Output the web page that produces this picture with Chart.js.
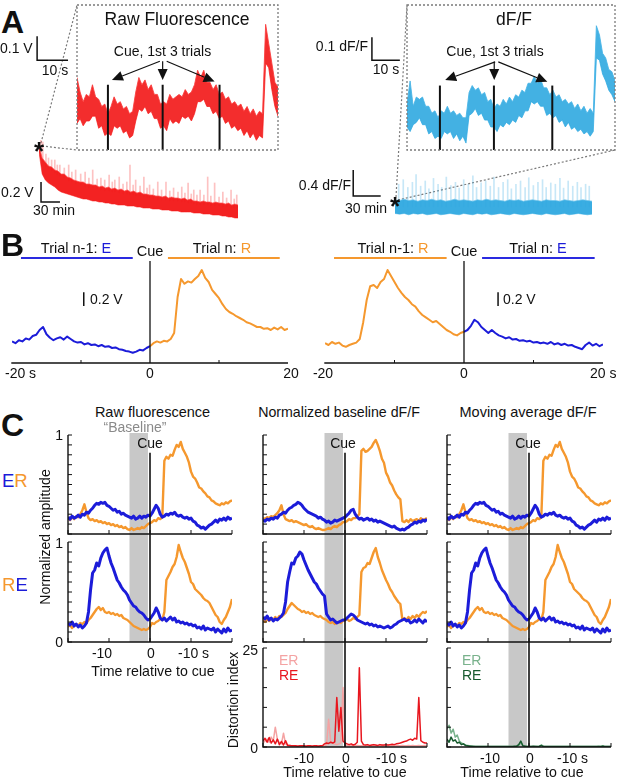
<!DOCTYPE html>
<html>
<head>
<meta charset="utf-8">
<script src="https://cdn.jsdelivr.net/npm/chart.js@4.4.0/dist/chart.umd.min.js"></script>
<style>
  body { margin: 0; background: #fff; width: 617px; height: 779px; overflow: hidden; position: relative;
         font-family: "Liberation Sans", Arial, Helvetica, sans-serif; }
  canvas { position: absolute; }
  .lbl { position: absolute; white-space: nowrap; color: #111; }
  #links { position: absolute; left: 0; top: 0; }
</style>
</head>
<body>
<svg id="links" width="617" height="779">
  <g stroke="#7a7a7a" stroke-width="1.2" stroke-dasharray="2 2" fill="none">
    <line x1="41" y1="143" x2="77" y2="5"/>
    <line x1="42" y1="146" x2="77" y2="150"/>
    <line x1="396" y1="197" x2="407" y2="5"/>
    <line x1="398" y1="200" x2="615" y2="150"/>
  </g>
</svg>
<script>
// ---------- Panel A: raw fluorescence (V) and dF/F, zoomed insets (s) ----------
const rawInsetUpper = [0.3,0.24,0.2,0.23,0.22,0.27,0.22,0.21,0.18,0.19,
  0.15,0.18,0.22,0.19,0.2,0.17,0.18,0.15,0.16,0.24,
  0.3,0.27,0.29,0.25,0.27,0.23,0.23,0.19,0.2,0.19,
  0.23,0.21,0.22,0.23,0.22,0.25,0.23,0.24,0.27,0.33,
  0.3,0.33,0.28,0.28,0.25,0.27,0.23,0.24,0.21,0.22,
  0.19,0.2,0.18,0.19,0.16,0.18,0.15,0.17,0.14,0.16,
  0.15,0.52,0.44,0.36,0.28,0.26];
const rawInsetLower = [0.11,0.13,0.1,0.12,0.12,0.14,0.14,0.09,0.1,0.06,
  0.07,0.06,0.1,0.09,0.1,0.07,0.08,0.05,0.06,0.12,
  0.17,0.16,0.18,0.15,0.16,0.13,0.13,0.09,0.1,0.08,
  0.13,0.11,0.12,0.11,0.14,0.13,0.14,0.12,0.15,0.2,
  0.2,0.21,0.18,0.18,0.15,0.16,0.13,0.14,0.11,0.12,
  0.09,0.1,0.08,0.09,0.06,0.08,0.05,0.07,0.04,0.06,
  0.05,0.36,0.34,0.25,0.18,0.14];
const rawInsetCues = [10, 27.7, 46.1];

const dffInsetUpper = [0.2,0.3,0.19,0.23,0.22,0.23,0.19,0.19,0.16,0.17,
  0.14,0.17,0.16,0.19,0.16,0.17,0.15,0.16,0.14,0.14,
  0.25,0.28,0.26,0.27,0.24,0.25,0.21,0.22,0.18,0.2,
  0.19,0.22,0.2,0.23,0.21,0.24,0.23,0.26,0.25,0.29,
  0.29,0.32,0.29,0.31,0.27,0.27,0.24,0.26,0.23,0.24,
  0.21,0.22,0.2,0.21,0.18,0.2,0.17,0.19,0.16,0.18,
  0.16,0.54,0.5,0.42,0.4,0.35,0.34,0.3];
const dffInsetLower = [0.1,0.08,0.11,0.12,0.14,0.11,0.11,0.07,0.08,0.05,
  0.06,0.05,0.08,0.07,0.08,0.05,0.07,0.04,0.06,0.03,
  0.15,0.16,0.18,0.15,0.16,0.13,0.13,0.1,0.1,0.08,
  0.11,0.1,0.12,0.11,0.13,0.12,0.15,0.14,0.17,0.17,
  0.21,0.2,0.21,0.19,0.19,0.15,0.16,0.14,0.15,0.12,
  0.13,0.1,0.12,0.09,0.1,0.08,0.09,0.07,0.08,0.06,
  0.08,0.4,0.39,0.33,0.3,0.26,0.24,0.21];
const dffInsetCues = [10.6, 28, 46.8];

// whole session, 5 min samples
const rawTraceTop = [0.74,0.62,0.58,0.54,0.53,0.5,0.49,0.46,0.46,0.43,
  0.42,0.4,0.39,0.38,0.38,0.36,0.36,0.35,0.35,0.33,
  0.34,0.32,0.33,0.31,0.32,0.3,0.31,0.29,0.3,0.28,
  0.29,0.27,0.28,0.26,0.26,0.25,0.25,0.24,0.24,0.23,
  0.24,0.22,0.23,0.22,0.22,0.21,0.22,0.2,0.21,0.19,
  0.19,0.18,0.19,0.18,0.18,0.17,0.18,0.17,0.17,0.16,
  0.17,0.15,0.16,0.15];
const rawTraceBottom = [0.68,0.46,0.4,0.37,0.35,0.33,0.3,0.28,0.27,0.26,
  0.25,0.24,0.23,0.22,0.21,0.21,0.2,0.19,0.19,0.18,
  0.18,0.17,0.17,0.16,0.16,0.15,0.15,0.15,0.14,0.14,
  0.14,0.13,0.13,0.12,0.12,0.12,0.11,0.11,0.11,0.1,
  0.1,0.1,0.09,0.09,0.09,0.08,0.08,0.08,0.08,0.07,
  0.07,0.07,0.06,0.06,0.06,0.05,0.05,0.05,0.04,0.04,
  0.03,0.03,0.02,0.02];
const rawSpikeTimes = [3,6,11,15,20,25,29,33,40,47,52,58,66,73,79,85,92,98,104,111,
  116,120,127,133,139,144,149,153,160,166,171,175,181,188,194,201,207,213,220,226,
  231,236,241,245,250,255,261,267,272,278,285,291,297,304,309,313];
const rawSpikeLows = [0.63,0.58,0.53,0.51,0.49,0.47,0.45,0.44,0.42,0.39,0.38,0.36,0.35,0.33,0.32,0.32,0.31,0.3,0.29,0.29,
  0.28,0.28,0.27,0.26,0.26,0.25,0.25,0.24,0.24,0.23,0.22,0.22,0.21,0.2,0.2,0.2,0.19,0.19,0.19,0.18,
  0.18,0.17,0.17,0.16,0.15,0.15,0.15,0.15,0.14,0.14,0.14,0.13,0.13,0.12,0.12,0.12];
const rawSpikeHighs = [0.8,0.78,0.66,0.62,0.6,0.6,0.55,0.55,0.52,0.55,0.48,0.5,0.46,0.48,0.42,0.5,0.41,0.42,0.4,0.45,
  0.38,0.4,0.43,0.36,0.38,0.55,0.35,0.4,0.34,0.43,0.32,0.35,0.31,0.38,0.3,0.38,0.29,0.32,0.28,0.33,
  0.27,0.37,0.26,0.3,0.25,0.3,0.25,0.43,0.24,0.37,0.23,0.28,0.22,0.3,0.21,0.25];

const dffTraceTop = [0.31,0.3,0.32,0.3,0.31,0.29,0.31,0.3,0.32,0.3,0.31,0.29,0.3,0.32,0.3,0.31,0.3,0.29,0.31,0.3,
  0.32,0.3,0.31,0.3,0.29,0.31,0.3,0.31,0.29,0.3,0.31,0.3,0.29,0.31,0.3,0.3,0.29,0.31,0.3,0.29,
  0.3,0.31,0.3,0.29];
const dffTraceBottom = [0.1,0.09,0.1,0.08,0.1,0.09,0.1,0.08,0.09,0.1,0.08,0.09,0.1,0.09,0.08,0.1,0.09,0.08,0.1,0.09,
  0.1,0.08,0.09,0.1,0.09,0.08,0.1,0.09,0.08,0.09,0.1,0.09,0.08,0.1,0.09,0.08,0.09,0.1,0.08,0.09,
  0.1,0.09,0.08,0.09];
const dffSpikeTimes = [4,9,14,19,23,28,33,37,42,47,51,56,61,66,70,75,80,85,89,94,
  99,104,108,113,118,123,127,132,137,142,146,151,156,161,165,170,175,180,184,189,194,199,203,208,212];
const dffSpikeHighs = [0.55,0.62,0.5,0.58,0.7,0.52,0.6,0.48,0.64,0.55,0.5,0.66,0.53,0.58,0.49,0.62,0.55,0.68,0.5,0.57,
  0.6,0.52,0.66,0.5,0.58,0.62,0.48,0.55,0.6,0.5,0.65,0.53,0.58,0.62,0.5,0.57,0.55,0.64,0.49,0.6,0.52,0.58,0.5,0.55,0.52];
const dffSpikeBase = 0.2;

// ---------- Panel B: single trials, 0.5 s samples ----------
const bLeftBlue = [0.36,0.33,0.38,0.36,0.41,0.39,0.45,0.47,0.55,0.6,
  0.48,0.42,0.38,0.41,0.43,0.39,0.44,0.4,0.36,0.34,
  0.35,0.31,0.33,0.3,0.31,0.28,0.3,0.27,0.28,0.25,
  0.26,0.23,0.22,0.2,0.19,0.17,0.19,0.22,0.21,0.25,0.28];
const bLeftOrange = [0.28,0.33,0.36,0.34,0.37,0.36,0.4,0.5,1.1,1.4,
  1.32,1.36,1.34,1.4,1.45,1.55,1.42,1.35,1.22,1.15,
  1.08,0.98,0.9,0.85,0.82,0.78,0.75,0.72,0.68,0.66,
  0.63,0.6,0.6,0.57,0.58,0.55,0.59,0.56,0.6,0.55,0.57];
const bRightOrange = [0.33,0.3,0.35,0.32,0.34,0.29,0.27,0.3,0.32,0.34,
  0.4,0.68,1.05,1.28,1.3,1.25,1.35,1.4,1.55,1.45,
  1.35,1.25,1.17,1.1,1.05,0.98,0.94,0.86,0.8,0.76,
  0.72,0.68,0.7,0.65,0.6,0.55,0.52,0.48,0.46,0.5,0.52];
const bRightBlue = [0.52,0.55,0.62,0.72,0.68,0.6,0.55,0.5,0.55,0.5,
  0.46,0.44,0.41,0.43,0.39,0.4,0.37,0.38,0.36,0.37,
  0.34,0.35,0.33,0.34,0.32,0.35,0.31,0.33,0.3,0.32,
  0.29,0.3,0.27,0.25,0.23,0.3,0.34,0.29,0.32,0.28,0.31];
const bTrialSpans = [[-18.7, -2.5], [2.6, 18.8]];

// ---------- Panel C: normalized averages, -20..20 s in 0.5 s steps ----------
const rawErBlue = [0.17,0.15,0.18,0.16,0.17,0.19,0.17,0.2,0.19,0.22,
  0.21,0.24,0.26,0.29,0.31,0.3,0.32,0.31,0.32,0.29,
  0.28,0.26,0.24,0.25,0.22,0.23,0.2,0.21,0.19,0.18,
  0.17,0.16,0.18,0.15,0.16,0.18,0.16,0.18,0.17,0.19,
  0.18,0.21,0.25,0.29,0.26,0.2,0.17,0.18,0.2,0.19,
  0.21,0.2,0.22,0.19,0.18,0.19,0.17,0.16,0.17,0.15,
  0.16,0.13,0.12,0.09,0.08,0.06,0.07,0.05,0.07,0.09,
  0.1,0.12,0.14,0.12,0.15,0.14,0.16,0.14,0.17,0.15,0.16];
const rawErOrange = [0.16,0.14,0.17,0.15,0.18,0.17,0.2,0.24,0.3,0.22,
  0.16,0.14,0.15,0.13,0.14,0.12,0.13,0.11,0.12,0.1,
  0.11,0.09,0.1,0.08,0.09,0.07,0.08,0.06,0.07,0.05,
  0.04,0.06,0.04,0.05,0.06,0.05,0.07,0.06,0.08,0.1,
  0.11,0.12,0.14,0.13,0.16,0.15,0.17,0.74,0.78,0.76,
  0.8,0.79,0.85,0.9,0.88,0.93,0.86,0.82,0.78,0.72,
  0.63,0.58,0.56,0.52,0.47,0.46,0.43,0.41,0.38,0.37,
  0.34,0.33,0.31,0.3,0.29,0.31,0.3,0.32,0.31,0.33,0.34];
const rawReBlue = [0.19,0.17,0.2,0.16,0.18,0.15,0.17,0.14,0.16,0.19,
  0.3,0.52,0.69,0.72,0.79,0.76,0.84,0.89,0.92,0.94,
  0.86,0.79,0.74,0.68,0.62,0.59,0.55,0.52,0.5,0.47,
  0.42,0.39,0.36,0.35,0.32,0.3,0.29,0.27,0.24,0.22,
  0.23,0.26,0.29,0.34,0.3,0.24,0.22,0.24,0.21,0.23,
  0.25,0.22,0.24,0.2,0.21,0.19,0.2,0.18,0.19,0.17,
  0.18,0.16,0.17,0.14,0.15,0.13,0.16,0.12,0.14,0.13,
  0.12,0.14,0.1,0.13,0.11,0.09,0.13,0.1,0.14,0.11,0.12];
const rawReOrange = [0.15,0.17,0.14,0.16,0.18,0.16,0.19,0.18,0.2,0.19,
  0.22,0.24,0.27,0.3,0.33,0.35,0.32,0.34,0.3,0.29,
  0.3,0.28,0.29,0.27,0.28,0.26,0.27,0.24,0.23,0.22,
  0.2,0.18,0.16,0.15,0.14,0.13,0.12,0.13,0.12,0.13,
  0.15,0.19,0.18,0.2,0.21,0.23,0.22,0.3,0.62,0.66,
  0.7,0.75,0.78,0.85,0.97,0.9,0.84,0.8,0.74,0.68,
  0.6,0.58,0.53,0.51,0.49,0.47,0.44,0.42,0.41,0.39,
  0.35,0.31,0.27,0.25,0.2,0.18,0.22,0.25,0.3,0.35,0.43];

const normErBlue = [0.14,0.13,0.15,0.14,0.16,0.15,0.17,0.16,0.19,0.2,
  0.22,0.21,0.24,0.26,0.27,0.29,0.3,0.32,0.31,0.29,
  0.26,0.24,0.22,0.21,0.2,0.19,0.18,0.16,0.17,0.15,
  0.14,0.12,0.13,0.11,0.12,0.14,0.13,0.14,0.15,0.16,
  0.17,0.19,0.21,0.24,0.25,0.2,0.17,0.15,0.16,0.14,
  0.15,0.16,0.14,0.15,0.13,0.14,0.12,0.13,0.12,0.11,
  0.1,0.09,0.08,0.07,0.08,0.06,0.05,0.04,0.05,0.04,
  0.06,0.07,0.09,0.1,0.12,0.11,0.13,0.12,0.14,0.13,0.15];
const normErOrange = [0.16,0.15,0.17,0.16,0.18,0.17,0.19,0.21,0.24,0.29,
  0.2,0.15,0.14,0.13,0.14,0.12,0.13,0.12,0.11,0.1,
  0.09,0.1,0.08,0.07,0.08,0.06,0.05,0.06,0.05,0.04,
  0.04,0.05,0.06,0.05,0.07,0.08,0.07,0.09,0.1,0.12,
  0.12,0.13,0.15,0.14,0.16,0.16,0.18,0.2,0.84,0.86,
  0.83,0.84,0.86,0.88,0.92,0.95,0.9,0.84,0.76,0.72,
  0.62,0.58,0.52,0.49,0.44,0.4,0.37,0.35,0.13,0.12,
  0.14,0.12,0.15,0.13,0.14,0.15,0.13,0.16,0.14,0.15,0.16];
const normReBlue = [0.25,0.23,0.26,0.22,0.24,0.21,0.23,0.22,0.24,0.26,
  0.29,0.4,0.6,0.7,0.79,0.78,0.84,0.86,0.9,0.88,
  0.82,0.77,0.72,0.68,0.64,0.6,0.58,0.54,0.51,0.48,
  0.46,0.28,0.25,0.22,0.23,0.21,0.19,0.2,0.21,0.22,
  0.22,0.24,0.26,0.28,0.27,0.25,0.22,0.21,0.2,0.19,
  0.18,0.19,0.17,0.18,0.16,0.17,0.15,0.16,0.15,0.14,
  0.15,0.16,0.14,0.15,0.17,0.18,0.2,0.21,0.22,0.23,
  0.21,0.22,0.19,0.2,0.22,0.2,0.23,0.21,0.19,0.22,0.2];
const normReOrange = [0.22,0.2,0.23,0.21,0.24,0.22,0.25,0.23,0.26,0.25,
  0.27,0.29,0.33,0.36,0.39,0.37,0.35,0.33,0.32,0.3,
  0.31,0.29,0.3,0.28,0.29,0.27,0.26,0.25,0.26,0.24,
  0.23,0.22,0.2,0.19,0.2,0.18,0.19,0.2,0.19,0.21,
  0.22,0.23,0.21,0.22,0.24,0.23,0.25,0.27,0.7,0.74,
  0.75,0.79,0.78,0.84,0.9,0.94,0.85,0.79,0.72,0.67,
  0.62,0.58,0.53,0.5,0.46,0.43,0.4,0.38,0.22,0.24,
  0.22,0.25,0.23,0.26,0.24,0.27,0.25,0.28,0.3,0.29,0.31];

// moving-average traces look the same as the raw ones at this scale
const movErBlue = rawErBlue, movErOrange = rawErOrange, movReBlue = rawReBlue, movReOrange = rawReOrange;

const distNormRE = [1.5,2.2,1.2,2.4,1.0,1.8,0.8,2.0,0.6,1.4,
  0.5,1.6,0.4,0.4,0.3,0.3,0.3,0.2,0.3,0.3,
  0.3,0.2,0.3,0.3,0.2,0.3,0.3,0.2,0.3,0.3,
  0.8,1.0,0.9,1.2,1.0,1.3,12.5,4.0,10.0,1.5,
  1.0,0.8,0.6,0.8,0.5,0.7,1.2,20.0,1.5,0.6,
  0.5,0.6,0.4,0.5,0.6,0.5,0.4,0.6,0.5,0.5,
  0.6,0.5,0.6,0.7,0.6,0.8,0.9,1.0,1.2,1.4,
  1.5,1.8,2.0,1.7,2.2,2.0,12.5,1.6,1.2,1.0,1.0];
const distNormER = [1.0,1.5,2.0,1.2,2.5,1.5,5.0,2.0,1.0,0.8,
  3.5,0.8,0.5,0.4,0.3,0.3,0.2,0.3,0.3,0.2,
  0.3,0.2,0.3,0.2,0.3,0.3,0.2,0.3,0.2,0.3,
  0.4,0.5,7.0,1.5,1.0,0.8,0.6,0.8,1.0,15.0,
  0.5,0.3,0.3,0.4,0.3,0.3,0.4,0.3,0.3,0.4,
  0.3,0.4,0.3,0.3,0.4,0.3,0.3,0.4,0.3,0.3,
  0.4,0.3,0.3,0.4,0.3,0.4,0.3,0.3,0.4,0.3,
  0.3,0.4,0.3,0.4,0.3,0.3,0.4,0.3,0.3,0.4,0.3];
const distMovER = [4.5,5.5,3.5,4.5,2.5,3.0,1.5,1.0,0.8,0.5,
  0.4,0.3,0.2,0.2,0.1,0.1,0.1,0.1,0.1,0.1,
  0.1,0.1,0.1,0.1,0.1,0.1,0.1,0.1,0.1,0.1,
  0.1,0.1,0.1,0.1,0.2,0.4,1.2,0.3,0.2,0.1,
  0.1,0.1,0.1,0.2,0.1,0.1,0.5,0.2,0.1,0.1,
  0.1,0.1,0.1,0.1,0.1,0.1,0.1,0.1,0.1,0.1,
  0.1,0.1,0.1,0.1,0.1,0.1,0.1,0.1,0.1,0.1,
  0.1,0.1,0.1,0.1,0.2,0.1,0.3,0.1,0.1,0.1,0.1];
const distMovRE = [2.0,1.2,2.5,1.5,1.8,1.0,1.2,0.6,0.8,0.4,
  0.3,0.2,0.2,0.1,0.1,0.1,0.1,0.1,0.1,0.1,
  0.1,0.1,0.1,0.1,0.1,0.1,0.1,0.1,0.1,0.1,
  0.1,0.1,0.1,0.2,0.2,0.6,1.5,0.3,0.2,0.1,
  0.1,0.1,0.2,0.1,0.1,0.2,0.4,0.1,0.1,0.1,
  0.1,0.1,0.1,0.1,0.1,0.1,0.1,0.1,0.1,0.1,
  0.1,0.1,0.1,0.1,0.1,0.1,0.1,0.1,0.1,0.1,
  0.1,0.1,0.1,0.1,0.1,0.1,0.2,0.1,0.1,0.1,0.1];

const ampTicks = [0, 0.1, 0.2, 0.3, 0.4, 0.5, 0.6, 0.7, 0.8, 0.9, 1];
const distTicks = [0, 5, 10, 15, 20, 25];
const timeTicks = [-20, -10, 0, 10, 20];
const baselineWindow = [-5, -0.5];

const BLUE = '#1c1cd9', ORANGE = '#f5982e', RED = '#f21616', CYAN = '#2fa9e0';

// time grids
function seq(start, step, n) { return Array.from({ length: n }, (_, i) => +(start + step * i).toFixed(3)); }
const insetRawT = seq(0, 1, rawInsetUpper.length);
const insetDffT = seq(0, 1, dffInsetUpper.length);
const rawTraceT = seq(0, 5, rawTraceTop.length);
const dffTraceT = seq(0, 5, dffTraceTop.length);
const bPreT = seq(-20, 0.5, 41), bPostT = seq(0, 0.5, 41);
const cT = seq(-20, 0.5, 81);

function pts(ts, vs) { return vs.map((v, i) => ({ x: ts[i], y: v })); }
function trace(ts, vs, color, width) {
  return { data: pts(ts, vs), borderColor: color, borderWidth: width, pointRadius: 0, fill: false };
}
function band(ts, hi, lo, fillColor, edge) {
  return [
    { data: pts(ts, hi), borderColor: edge, borderWidth: 1, pointRadius: 0, fill: '+1', backgroundColor: fillColor },
    { data: pts(ts, lo), borderColor: edge, borderWidth: 1, pointRadius: 0, fill: false }
  ];
}
function spikes(ts, lo, hi, color) {
  return { type: 'bar', data: ts.map((t, i) => ({ x: t, y: [lo[i], hi[i]] })),
           backgroundColor: color, barThickness: 1, borderWidth: 0, grouped: false };
}

function arrow(ctx, x0, y0, x1, y1) {
  const a = Math.atan2(y1 - y0, x1 - x0), L = 11, W = 5;
  const bx = x1 - L * Math.cos(a), by = y1 - L * Math.sin(a);
  ctx.lineWidth = 1.2;
  ctx.beginPath(); ctx.moveTo(x0, y0); ctx.lineTo(bx, by); ctx.stroke();
  ctx.beginPath(); ctx.moveTo(x1, y1);
  ctx.lineTo(bx - W * Math.sin(a), by + W * Math.cos(a));
  ctx.lineTo(bx + W * Math.sin(a), by - W * Math.cos(a));
  ctx.closePath(); ctx.fill();
}

// shading, cue lines, axes, scale bars, arrows, drawn through the chart scales
function decor(cfg) {
  return {
    id: 'decor',
    beforeDatasetsDraw(chart) {
      const { ctx, chartArea: a, scales: { x } } = chart;
      if (!cfg.shade) return;
      const x0 = x.getPixelForValue(cfg.shade[0]), x1 = x.getPixelForValue(cfg.shade[1]);
      const t = cfg.shadeTop || 0, b = cfg.extBottom || 0;
      ctx.save();
      ctx.fillStyle = '#c8c8c8';
      ctx.fillRect(x0, a.top - t, x1 - x0, a.bottom - a.top + t + b);
      ctx.restore();
    },
    afterDatasetsDraw(chart) {
      const { ctx, chartArea: a, scales: { x, y } } = chart;
      ctx.save();
      ctx.strokeStyle = '#111'; ctx.fillStyle = '#111';
      (cfg.cues || []).forEach(c => {
        const px = x.getPixelForValue(c);
        const top = cfg.cueFrom != null ? y.getPixelForValue(cfg.cueFrom) : a.top;
        ctx.lineWidth = cfg.cueWidth || 1.6;
        ctx.beginPath(); ctx.moveTo(px, top); ctx.lineTo(px, a.bottom + (cfg.extBottom || 0)); ctx.stroke();
      });
      if (cfg.axes) {
        ctx.lineWidth = 1.4;
        ctx.beginPath();
        if (cfg.axes.left) { ctx.moveTo(a.left, a.top); ctx.lineTo(a.left, a.bottom); }
        ctx.moveTo(a.left - 0.7, a.bottom); ctx.lineTo(a.right, a.bottom);
        ctx.stroke();
        ctx.lineWidth = 1;
        ctx.beginPath();
        (cfg.axes.yTicks || []).forEach(v => {
          const py = y.getPixelForValue(v); ctx.moveTo(a.left, py); ctx.lineTo(a.left + 4, py);
        });
        (cfg.axes.xTicks || []).forEach(v => {
          const px = x.getPixelForValue(v); ctx.moveTo(px, a.bottom); ctx.lineTo(px, a.bottom - (cfg.axes.tick || 4));
        });
        ctx.stroke();
      }
      (cfg.bars || []).forEach(b => {
        const x0 = x.getPixelForValue(b.x), y0 = y.getPixelForValue(b.y);
        ctx.lineWidth = 1.5;
        ctx.beginPath();
        ctx.moveTo(x0, y.getPixelForValue(b.y + (b.dy || 0)));
        ctx.lineTo(x0, y0);
        if (b.dx) ctx.lineTo(x.getPixelForValue(b.x + b.dx), y0);
        ctx.stroke();
      });
      (cfg.arrows || []).forEach(r => arrow(ctx, x.getPixelForValue(r[0]), y.getPixelForValue(r[1]),
                                                 x.getPixelForValue(r[2]), y.getPixelForValue(r[3])));
      (cfg.spans || []).forEach(s => {
        ctx.strokeStyle = s.color; ctx.lineWidth = 2;
        const py = y.getPixelForValue(s.y);
        ctx.beginPath(); ctx.moveTo(x.getPixelForValue(s.x0), py); ctx.lineTo(x.getPixelForValue(s.x1), py); ctx.stroke();
      });
      if (cfg.box) {
        ctx.strokeStyle = '#7a7a7a'; ctx.lineWidth = 1.3; ctx.setLineDash([2, 2]);
        ctx.strokeRect(a.left, a.top, a.right - a.left, a.bottom - a.top);
        ctx.setLineDash([]);
      }
      ctx.restore();
    }
  };
}

function addChart(rect, pad, xr, yr, datasets, cfg) {
  const c = document.createElement('canvas');
  const w = rect.w + pad.l + pad.r, h = rect.h + pad.t + pad.b;
  c.width = w; c.height = h;
  Object.assign(c.style, { left: (rect.x - pad.l) + 'px', top: (rect.y - pad.t) + 'px', width: w + 'px', height: h + 'px' });
  document.body.appendChild(c);
  return new Chart(c, {
    type: 'line',
    data: { datasets },
    options: {
      responsive: false, animation: false, events: [],
      layout: { padding: { left: pad.l, right: pad.r, top: pad.t, bottom: pad.b } },
      plugins: { legend: { display: false }, tooltip: { enabled: false } },
      scales: {
        x: { type: 'linear', display: false, offset: false, min: xr[0], max: xr[1] },
        y: { type: 'linear', display: false, offset: false, min: yr[0], max: yr[1] }
      },
      elements: { point: { radius: 0 }, line: { tension: 0, borderJoinStyle: 'round' } }
    },
    plugins: [decor(cfg)]
  });
}

// ---------- Panel A ----------
addChart({ x: 77, y: 5, w: 201, h: 145 }, { l: 45, t: 4, r: 4, b: 4 }, [0, 65], [0, 0.6],
  band(insetRawT, rawInsetUpper, rawInsetLower, 'rgba(242,22,22,0.9)', 'rgba(250,60,60,0.85)'),
  { box: true, cues: rawInsetCues, cueFrom: 0.27, cueWidth: 2,
    bars: [{ x: -12.9, y: 0.371, dx: 10, dy: 0.1 }],
    arrows: [[26.8, 0.367, 11.3, 0.29], [27.7, 0.367, 27.7, 0.29], [29, 0.367, 44.5, 0.283]] });

addChart({ x: 407, y: 5, w: 208, h: 145 }, { l: 40, t: 4, r: 2, b: 4 }, [0, 67], [0, 0.63],
  band(insetDffT, dffInsetUpper, dffInsetLower, 'rgba(47,169,224,0.9)', 'rgba(70,180,230,0.85)'),
  { box: true, cues: dffInsetCues, cueFrom: 0.28, cueWidth: 2,
    bars: [{ x: -11.3, y: 0.39, dx: 9, dy: 0.1 }],
    arrows: [[28.4, 0.383, 12.3, 0.304], [28.1, 0.383, 28.1, 0.304], [29.4, 0.383, 45.2, 0.296]] });

addChart({ x: 39, y: 140, w: 199, h: 80 }, { l: 4, t: 2, r: 4, b: 4 }, [0, 315], [0, 0.8],
  [...band(rawTraceT, rawTraceTop, rawTraceBottom, 'rgba(242,22,22,0.95)', 'rgba(255,80,80,0.7)'),
   spikes(rawSpikeTimes, rawSpikeLows, rawSpikeHighs, 'rgba(250,80,80,0.35)')],
  { bars: [{ x: 3.2, y: 0.18, dx: 30, dy: 0.2 }] });

addChart({ x: 395, y: 160, w: 197, h: 60 }, { l: 50, t: 2, r: 4, b: 4 }, [0, 215], [0, 0.923],
  [...band(dffTraceT, dffTraceTop, dffTraceBottom, 'rgba(47,169,224,0.95)', 'rgba(110,195,235,0.7)'),
   spikes(dffSpikeTimes, dffSpikeTimes.map(() => dffSpikeBase), dffSpikeHighs, 'rgba(70,175,228,0.3)')],
  { bars: [{ x: -45.6, y: 0.37, dx: 30, dy: 0.4 }] });

// ---------- Panel B ----------
addChart({ x: 12, y: 255, w: 276, h: 108 }, { l: 4, t: 2, r: 4, b: 4 }, [-20, 20], [0, 1.8],
  [trace(bPreT, bLeftBlue, BLUE, 2), trace(bPostT, bLeftOrange, ORANGE, 2)],
  { cues: [0], cueFrom: 1.7, cueWidth: 1.3, axes: { xTicks: [-10, 10], tick: 3 },
    bars: [{ x: -9.6, y: 0.95, dy: 0.23 }],
    spans: [{ x0: bTrialSpans[0][0], x1: bTrialSpans[0][1], y: 1.75, color: '#2a2ae0' },
            { x0: bTrialSpans[1][0], x1: bTrialSpans[1][1], y: 1.75, color: ORANGE }] });

addChart({ x: 325, y: 255, w: 278, h: 108 }, { l: 4, t: 2, r: 6, b: 4 }, [-20, 20], [0, 1.8],
  [trace(bPreT, bRightOrange, ORANGE, 2), trace(bPostT, bRightBlue, BLUE, 2)],
  { cues: [0], cueFrom: 1.7, cueWidth: 1.3, axes: { xTicks: [-10, 10], tick: 3 },
    bars: [{ x: 4.9, y: 0.95, dy: 0.23 }],
    spans: [{ x0: bTrialSpans[0][0], x1: bTrialSpans[0][1], y: 1.75, color: ORANGE },
            { x0: bTrialSpans[1][0], x1: bTrialSpans[1][1], y: 1.75, color: '#2a2ae0' }] });

// ---------- Panel C ----------
const cols = [
  { x: 68, er: [rawErBlue, rawErOrange], re: [rawReBlue, rawReOrange] },
  { x: 263, er: [normErBlue, normErOrange], re: [normReBlue, normReOrange],
    dist: [distNormRE, distNormER], distColors: ['#e8161e', '#f4a3a3'] },
  { x: 447, er: [movErBlue, movErOrange], re: [movReBlue, movReOrange],
    dist: [distMovRE, distMovER], distColors: ['#175a2e', '#79b28c'] }
];
const pad10 = { l: 10, t: 10, r: 10, b: 10 };
cols.forEach(col => {
  addChart({ x: col.x, y: 435, w: 164, h: 99 }, pad10, [-20, 20], [0, 1],
    [trace(cT, col.er[0], BLUE, 3), trace(cT, col.er[1], ORANGE, 2.4)],
    { shade: baselineWindow, shadeTop: 2, extBottom: 8, cues: [0], cueFrom: 0.82,
      axes: { left: true, yTicks: ampTicks, xTicks: timeTicks } });
  const gap = col.dist ? 6 : 0;
  addChart({ x: col.x, y: 542, w: 164, h: 100 }, pad10, [-20, 20], [0, 1],
    [trace(cT, col.re[0], BLUE, 3), trace(cT, col.re[1], ORANGE, 2.4)],
    { shade: baselineWindow, extBottom: gap, cues: [0],
      axes: { left: true, yTicks: ampTicks, xTicks: timeTicks } });
  if (col.dist) {
    addChart({ x: col.x, y: 648, w: 164, h: 99 }, pad10, [-20, 20], [0, 25],
      [trace(cT, col.dist[0], col.distColors[0], 1.5), trace(cT, col.dist[1], col.distColors[1], 1.5)],
      { shade: baselineWindow, cues: [0],
        axes: { left: true, yTicks: distTicks, xTicks: timeTicks } });
  }
});

// ---------- text ----------
function label(html, x, base, size, o = {}) {
  const d = document.createElement('div');
  d.className = 'lbl';
  d.innerHTML = html;
  d.style.fontSize = size + 'px';
  d.style.lineHeight = size + 'px';
  d.style.left = x + 'px';
  d.style.top = (base - 0.8465 * size) + 'px';
  if (o.bold) d.style.fontWeight = 'bold';
  if (o.color) d.style.color = o.color;
  const tx = o.align === 'center' ? '-50%' : o.align === 'right' ? '-100%' : '0';
  d.style.transform = 'translateX(' + tx + ')';
  document.body.appendChild(d);
}
function vlabel(text, cx, cy, size) {
  const d = document.createElement('div');
  d.className = 'lbl';
  d.textContent = text;
  d.style.fontSize = size + 'px';
  d.style.lineHeight = size + 'px';
  d.style.left = cx + 'px';
  d.style.top = cy + 'px';
  d.style.transform = 'translate(-50%,-50%) rotate(-90deg)';
  document.body.appendChild(d);
}
const b = s => '<span style="color:' + BLUE + '">' + s + '</span>';
const o = s => '<span style="color:' + ORANGE + '">' + s + '</span>';
const C = { align: 'center' }, R = { align: 'right' };

// A
label('A', 1, 33, 32, { bold: true });
label('Raw Fluorescence', 177, 26, 17.5, C);
label('Cue, 1st 3 trials', 162.5, 56, 14, C);
label('0.1 V', 0, 53, 14);
label('10 s', 55, 75, 14, C);
label('0.2 V', 1, 197, 14);
label('30 min', 33, 215, 14);
label('*', 39, 160, 26, { align: 'center', bold: true });
label('dF/F', 514, 26, 17.5, C);
label('Cue, 1st 3 trials', 495, 56, 14, C);
label('0.1 dF/F', 368, 51, 14, R);
label('10 s', 386, 74, 14, C);
label('0.4 dF/F', 351, 190, 14, R);
label('30 min', 345, 213, 14);
label('*', 395, 215, 26, { align: 'center', bold: true });

// B
label('B', 1, 256, 32, { bold: true });
label('Trial n-1: ' + b('E'), 76, 253, 14.5, C);
label('Cue', 150, 256, 14.5, C);
label('Trial n: ' + o('R'), 222, 253, 14.5, C);
label('Trial n-1: ' + o('R'), 393, 253, 14.5, C);
label('Cue', 464, 256, 14.5, C);
label('Trial n: ' + b('E'), 538, 253, 14.5, C);
label('0.2 V', 90, 304, 14);
label('0.2 V', 503, 304, 14);
label('-20 s', 5, 378, 14);
label('0', 150, 378, 14, C);
label('20', 291, 378, 14, C);
label('-20', 323, 378, 14, C);
label('0', 464, 378, 14, C);
label('20 s', 590, 378, 14);

// C
label('C', 1, 436, 32, { bold: true });
label('Raw fluorescence', 152.5, 417, 14.5, C);
label('Normalized baseline dF/F', 339, 417, 14.2, C);
label('Moving average dF/F', 528, 417, 14.5, C);
label('\u201cBaseline\u201d', 135, 432, 14, { align: 'center', color: '#8a8a8a' });
label('Cue', 150, 448, 14, C);
label('Cue', 343, 448, 14, C);
label('Cue', 528, 448, 14, C);
label(b('E') + o('R'), 2, 488, 18.5);
label(o('R') + b('E'), 2, 592, 18.5);
vlabel('Normalized amplitude', 45, 537, 14);
label('1', 63, 440, 14, R);
label('1', 63, 548, 14, R);
label('0', 63, 647, 14, R);
label('-10', 102, 658, 14, C);
label('0', 151, 658, 14, C);
label('-10 s', 178, 658, 14);
label('Time relative to cue', 153, 676, 14.2, C);
vlabel('Distortion index', 233, 700, 14);
label('25', 258, 655, 14, R);
label('0', 258, 753, 14, R);
label('ER', 279, 665, 14, { color: '#f4a3a3' });
label('RE', 279, 680, 14, { color: '#e8161e' });
label('ER', 462, 665, 14, { color: '#79b28c' });
label('RE', 462, 680, 14, { color: '#175a2e' });
label('-10', 304, 763, 14, C);
label('0', 346, 763, 14, C);
label('-10 s', 376, 763, 14);
label('-10', 490, 763, 14, C);
label('0', 530, 763, 14, C);
label('-10 s', 557, 763, 14);
label('Time relative to cue', 345, 777, 14.2, C);
label('Time relative to cue', 522, 777, 14.2, C);
</script>
</body>
</html>
